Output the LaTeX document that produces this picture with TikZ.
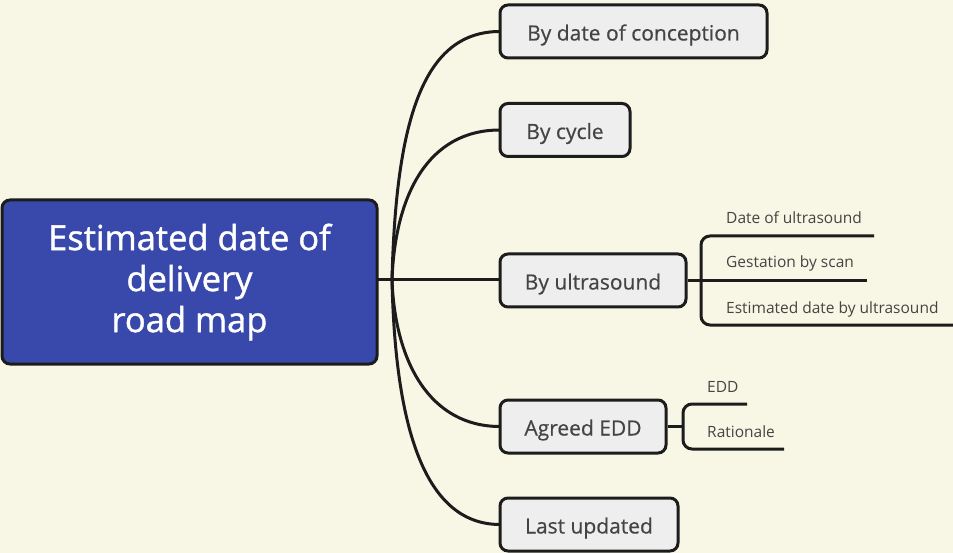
\documentclass[tikz,border=0pt]{standalone}
\usepackage{fontspec}
\setmainfont{Open Sans}[BoldFont=Open Sans, BoldFeatures={FakeBold=0.5}]
\newfontfamily\centrefont{Open Sans}[FakeBold=1.2]
\usetikzlibrary{calc}

\definecolor{paper}{HTML}{F8F7E5}
\definecolor{rootfill}{HTML}{3949AB}
\definecolor{boxfill}{HTML}{EEEEEE}
\definecolor{ink}{HTML}{1C1C1C}
\definecolor{label}{HTML}{444444}

\tikzset{
  rootbox/.style={draw=ink, fill=rootfill, line width=3pt, rounded corners=8pt,
    minimum width=375pt, minimum height=164pt, align=center, text=white,
    font=\centrefont\fontsize{34.5}{41}\selectfont, inner sep=0pt},
  topicbox/.style={draw=ink, fill=boxfill, line width=3pt, rounded corners=8pt,
    minimum height=53pt, text=label, font=\fontsize{21}{25}\selectfont\bfseries,
    text height=18pt, text depth=0pt, inner sep=0pt},
  sublabel/.style={anchor=base west, text=label, font=\fontsize{15.5}{18}\selectfont, inner sep=0pt},
  branch/.style={draw=ink, line width=3pt, line cap=round},
  bracket/.style={draw=ink, line width=3pt, rounded corners=9pt},
}

\begin{document}
\begin{tikzpicture}[x=1pt, y=-1pt]
  % page and background
  \fill[paper] (0,0) rectangle (953,553);
  \useasboundingbox (0,0) rectangle (953,553);

  % hub where the main branches split
  \coordinate (hub) at (392,280);

  % main branches (drawn first, boxes cover their ends)
  \draw[branch] (377,280) -- (hub);
  \draw[branch] (hub) .. controls (396,115) and (425,31.5) .. (500,31.5);
  \draw[branch] (hub) .. controls (395,195) and (428,130) .. (500,130);
  \draw[branch] (hub) -- (500,280);
  \draw[branch] (hub) .. controls (395,362) and (430,426.5) .. (500,426.5);
  \draw[branch] (hub) .. controls (395,415) and (420,524.5) .. (500,524.5);

  % central topic
  \node[rootbox] (root) at (189.5,282) {Estimated date of\\delivery\\road map};

  % topics
  \node[topicbox, minimum width=267pt] (conc)   at (633.5,31.5) {By date of conception};
  \node[topicbox, minimum width=130pt] (cycle)  at (565,130)    {By cycle};
  \node[topicbox, minimum width=186pt] (ultra)  at (593,280.5)  {By ultrasound};
  \node[topicbox, minimum width=166pt] (agreed) at (583,426.5)  {Agreed EDD};
  \node[topicbox, minimum width=178pt] (last)   at (589,524.5)  {Last updated};

  % ultrasound details
  \coordinate (uj) at (701,280.5);
  \coordinate (u1) at (874,236);
  \coordinate (u2) at (867,280.5);
  \coordinate (u3) at (953,325);
  \draw[branch, line cap=butt] (ultra.east) -- (uj);
  \draw[bracket] (u1) -- (701,236) -- (701,325) -- (u3);
  \draw[branch, line cap=butt] (uj) -- (u2);
  \node[sublabel] (d1) at (726,224) {Date of ultrasound};
  \node[sublabel] (d2) at (726,268) {Gestation by scan};
  \node[sublabel] (d3) at (726,313) {Estimated date by ultrasound};

  % agreed EDD details
  \coordinate (aj) at (683,426.5);
  \coordinate (a1) at (747,404);
  \coordinate (a2) at (784,449);
  \draw[branch, line cap=butt] (agreed.east) -- (aj);
  \draw[bracket] (a1) -- (683,404) -- (683,449) -- (a2);
  \node[sublabel] (e1) at (707,392) {EDD};
  \node[sublabel] (e2) at (707,437) {Rationale};
\end{tikzpicture}
\end{document}
